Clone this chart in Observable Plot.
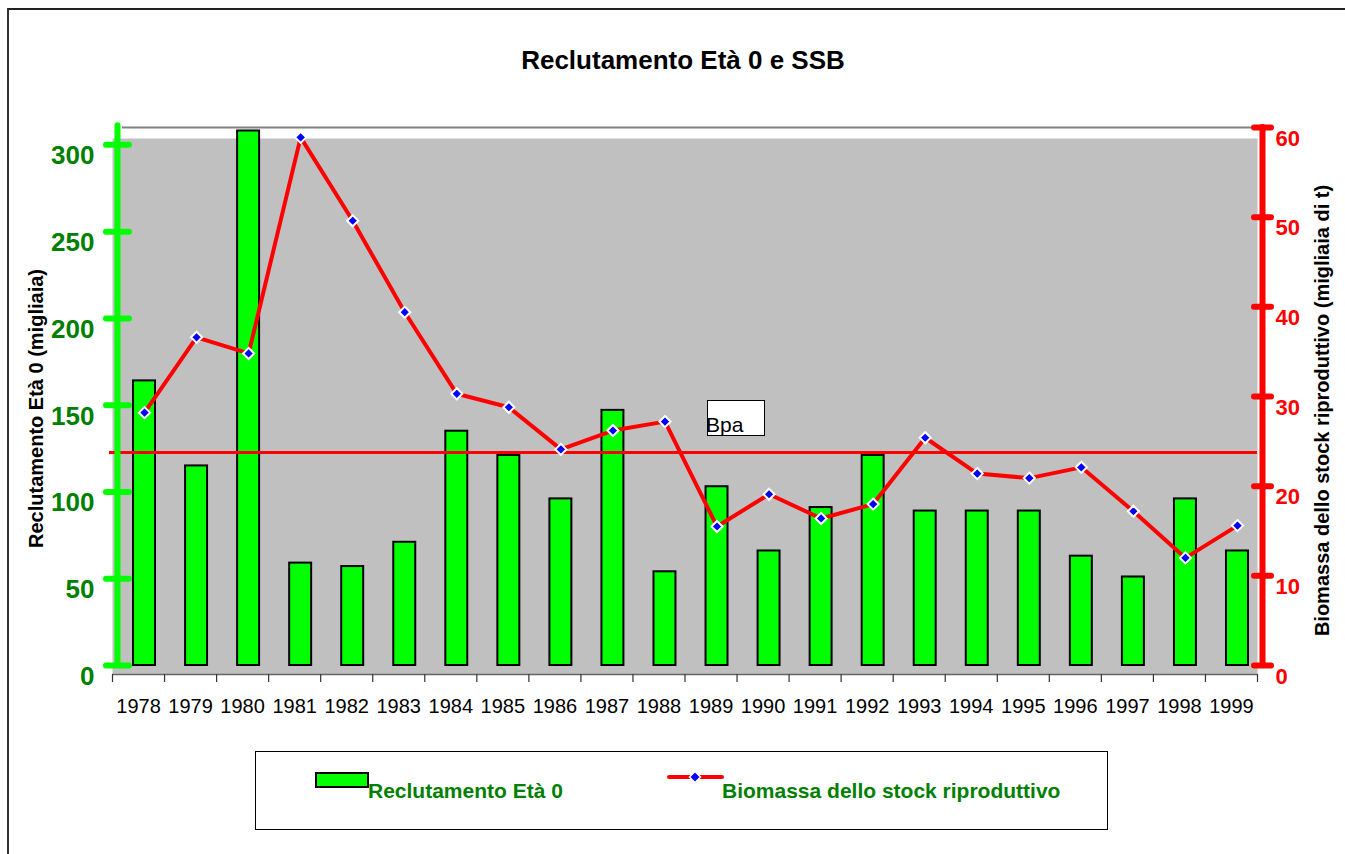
<!DOCTYPE html>
<html>
<head>
<meta charset="utf-8">
<script src="https://cdn.jsdelivr.net/npm/d3@7"></script>
<script src="https://cdn.jsdelivr.net/npm/@observablehq/plot@0.6"></script>
<style>
  html, body { margin: 0; padding: 0; background: #fff; }
  body { font-family: "Liberation Sans", Arial, sans-serif; }
  #wrap { position: relative; width: 1345px; height: 854px; overflow: hidden; }
  #border { position: absolute; left: 7px; top: 8px; width: 1400px; height: 900px;
            border-left: 2px solid #333; border-top: 2px solid #222; }
  #title { position: absolute; top: 45px; left: 0; width: 1366px; text-align: center;
           font-weight: bold; font-size: 26px; color: #000; }
  #chart { position: absolute; top: 100px; left: 0; }
  #bpa { position: absolute; left: 707px; top: 400px; width: 56px; height: 34px;
         background: #fff; border: 1px solid #000; font-size: 21px; color: #000; }
  #bpa span { position: absolute; left: -2px; bottom: 0px; line-height: 21px; }
  #legend { position: absolute; left: 255px; top: 751px; width: 851px; height: 77px;
            border: 1px solid #000; background: #fff; }
  .lg { position: absolute; font-weight: bold; font-size: 21px; color: #008000; white-space: nowrap; }
</style>
</head>
<body>
<div id="wrap">
  <div id="border"></div>
  <div id="title">Reclutamento Età 0 e SSB</div>
  <div id="chart"></div>
  <div id="bpa"><span>Bpa</span></div>
  <div id="legend">
    <svg width="851" height="77" style="position:absolute;left:0;top:0">
      <rect x="60" y="21" width="52" height="14" fill="#00ff00" stroke="#000" stroke-width="2"></rect>
      <line x1="413" y1="25" x2="466" y2="25" stroke="#ff0000" stroke-width="4" stroke-linecap="round"></line>
      <path d="M439 19.5 L444.5 25 L439 30.5 L433.5 25 Z" fill="#0000ff" stroke="#fff" stroke-width="1.5"></path>
    </svg>
    <div class="lg" style="left:112px; top:27px;">Reclutamento Età 0</div>
    <div class="lg" style="left:466px; top:27px;">Biomassa dello stock riproduttivo</div>
  </div>
</div>
<script>
const years = [1978,1979,1980,1981,1982,1983,1984,1985,1986,1987,1988,1989,1990,1991,1992,1993,1994,1995,1996,1997,1998,1999];
const recruits = [164,115,308,59,57,71,135,121,96,147,54,103,66,91,121,89,89,89,63,51,96,66];
const ssb = [28.2,36.6,34.8,58.9,49.6,39.4,30.3,28.8,24.1,26.2,27.2,15.5,19.1,16.4,18.0,25.4,21.4,20.9,22.1,17.2,12.0,15.6];
const bpa = 23.75;
const leftTicks = [0,50,100,150,200,250,300];
const rightTicks = [0,10,20,30,40,50,60];
const leftMax = 310;
const rightMax = 60;
const k = leftMax / rightMax;

const data = years.map((year, i) => ({year, rec: recruits[i], ssb: ssb[i]}));
const boundaries = years.map(y => y - 0.5).concat([years[years.length - 1] + 0.5]);

const chart = Plot.plot({
  width: 1345,
  height: 620,
  marginLeft: 112,
  marginRight: 88,
  marginTop: 38,
  marginBottom: 46,
  style: {fontFamily: "'Liberation Sans', Arial, sans-serif", background: "transparent", overflow: "visible"},
  x: {type: "linear", domain: [years[0] - 0.5, years[years.length - 1] + 0.5], axis: null, label: null},
  y: {domain: [0, leftMax], range: [565, 27], axis: null, label: null},
  marks: [
    Plot.frame({fill: "#c0c0c0", stroke: null}),
    Plot.ruleY([leftMax], {stroke: "#808080", strokeWidth: 2, insetLeft: 10}),
    Plot.ruleY([0], {dy: 9, stroke: "#666", strokeWidth: 1.5}),
    Plot.axisX(boundaries, {tickSize: 8, tickFormat: () => "", stroke: "#333", strokeWidth: 1.2, label: null}),
    Plot.text(years, {x: d => d, frameAnchor: "bottom", dy: 38, fontSize: 20, fill: "#000", text: d => String(d)}),
    // bars
    Plot.rect(data, {x1: d => d.year - 0.211, x2: d => d.year + 0.211, y1: () => 0, y2: "rec",
                     fill: "#00ff00", stroke: "#000", strokeWidth: 2, dx: 6}),
    // Bpa line
    Plot.ruleY([bpa * k], {stroke: "#ff0000", strokeWidth: 3, insetLeft: -3}),
    // SSB line
    Plot.line(data, {x: "year", y: d => d.ssb * k, stroke: "#ff0000", strokeWidth: 4, dx: 6, strokeLinejoin: "round"}),
    Plot.dot(data, {x: "year", y: d => d.ssb * k, symbol: "diamond2", r: 5, fill: "#0000ff", stroke: "#fff", strokeWidth: 2, dx: 6}),
    // left axis
    Plot.ruleX([years[0] - 0.5], {dx: 5, y1: () => 0, y2: () => 311, stroke: "#00ff00", strokeWidth: 6, strokeLinecap: "round"}),
    Plot.axisY(leftTicks, {anchor: "left", tickSize: 23, dx: 17, tickFormat: () => "", label: null, stroke: "#00ff00", strokeWidth: 6, strokeLinecap: "round"}),
    Plot.axisY(leftTicks, {anchor: "left", tickSize: 0, tickPadding: 18, dy: 11, label: null, fontSize: 26, fontWeight: "bold", fill: "#008000", color: "#008000"}),
    // right axis
    Plot.ruleX([years[years.length - 1] + 0.5], {dx: 5, y1: () => 0, y2: () => leftMax, stroke: "#ff0000", strokeWidth: 6, strokeLinecap: "round"}),
    Plot.axisY(rightTicks.map(v => v * k), {anchor: "right", tickSize: 17, dx: -4, tickFormat: () => "", label: null, stroke: "#ff0000", strokeWidth: 6, strokeLinecap: "round"}),
    Plot.axisY(rightTicks.map(v => v * k), {anchor: "right", tickSize: 0, tickPadding: 18, dy: 11, label: null, fontSize: 22, fontWeight: "bold", fill: "#ff0000", color: "#ff0000", tickFormat: d => String(Math.round(d / k))}),
    // axis titles
    Plot.text(["Reclutamento Età 0 (migliaia)"], {frameAnchor: "left", textAnchor: "middle", rotate: -90, dx: -76, dy: 2, fontSize: 20, fontWeight: "bold", fill: "#000", text: d => d}),
    Plot.text(["Biomassa dello stock riproduttivo (migliaia di t)"], {frameAnchor: "right", textAnchor: "middle", rotate: -90, dx: 65, dy: 4, fontSize: 20, fontWeight: "bold", fill: "#000", text: d => d})
  ]
});
document.getElementById("chart").appendChild(chart);
</script>
</body>
</html>
